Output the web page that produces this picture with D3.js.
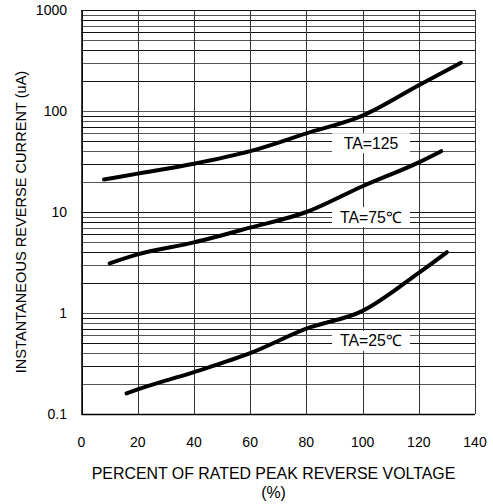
<!DOCTYPE html>
<html><head><meta charset="utf-8">
<script src="https://cdn.jsdelivr.net/npm/d3@7"></script>
<style>body{margin:0;background:#fff}svg{display:block}text{font-family:Arial,"Liberation Sans",sans-serif;fill:#000}</style>
</head><body><svg id="c" width="493" height="504"></svg>
<script>
const xTicks=[0,20,40,60,80,100,120,140];
const yTicks=[0.1,1,10,100,1000];
const yTickLabels=["0.1","1","10","100","1000"];
const x125=[8,20,40,60,80,100,120,135];
const y125=[21,24,30,40,60,90,180,300];
const x75=[10,20,40,60,80,100,120,128];
const y75=[3.1,3.8,5,7,10,18,31,40];
const x25=[16,20,40,60,80,100,120,130];
const y25=[0.16,0.175,0.26,0.4,0.7,1.05,2.5,4];
const labels=[{t:"TA=125",x:103,y:48},{t:"TA=75℃",x:103,y:8.9},{t:"TA=25℃",x:103,y:0.53}];

const svg=d3.select("#c");
const L=81.5,R=475,T=10,B=414;
const x=d3.scaleLinear().domain([0,140]).range([L,R]);
const y=d3.scaleLog().domain([0.1,1000]).range([B,T]);
const g=svg.append("g");
const minor=[];
for(let d=0.1;d<1000;d*=10){for(let k=1;k<=9;k++)minor.push(+(d*k).toPrecision(3));}
minor.push(1000);
g.selectAll(".h").data(minor).join("line").attr("x1",L).attr("x2",R)
 .attr("y1",d=>Math.round(y(d))+0.5).attr("y2",d=>Math.round(y(d))+0.5)
 .attr("stroke",(d,i)=>i%2?"#555":"#111").attr("stroke-width",1);
g.selectAll(".v").data(xTicks).join("line").attr("y1",T).attr("y2",B)
 .attr("x1",d=>Math.round(x(d))+0.5).attr("x2",d=>Math.round(x(d))+0.5)
 .attr("stroke","#333").attr("stroke-width",1);
g.append("line").attr("x1",L).attr("x2",R).attr("y1",B+0.5).attr("y2",B+0.5).attr("stroke","#000").attr("stroke-width",1.5);
g.append("line").attr("x1",L+0.5).attr("x2",L+0.5).attr("y1",T).attr("y2",B).attr("stroke","#000").attr("stroke-width",1.5);
const line=d3.line().x(d=>x(d[0])).y(d=>y(d[1])).curve(d3.curveMonotoneX);
[[x125,y125],[x75,y75],[x25,y25]].forEach(([xs,ys])=>{
 g.append("path").attr("d",line(xs.map((v,i)=>[v,ys[i]]))).attr("fill","none").attr("stroke","#000").attr("stroke-width",4).attr("stroke-linecap","round");
});
const lg=svg.append("g");
labels.forEach(l=>{
 const cx=x(l.x),cy=y(l.y);
 lg.append("rect").attr("x",cx-39).attr("y",cy-10).attr("width",78).attr("height",20).attr("fill","#fff");
 lg.append("text").attr("x",cx).attr("y",cy).attr("text-anchor","middle").attr("dominant-baseline","central").attr("font-size",15.8).text(l.t);
});
svg.selectAll(".yt").data(yTicks).join("text").attr("x",67).attr("y",d=>y(d)).attr("text-anchor","end").attr("dominant-baseline","central").attr("font-size",14).text((d,i)=>yTickLabels[i]);
svg.selectAll(".xt").data(xTicks).join("text").attr("x",d=>x(d)).attr("y",442).attr("text-anchor","middle").attr("dominant-baseline","central").attr("font-size",14).text(d=>d);
svg.append("text").attr("x",273.5).attr("y",473).attr("text-anchor","middle").attr("dominant-baseline","central").attr("font-size",15.9).text("PERCENT OF RATED PEAK REVERSE VOLTAGE");
svg.append("text").attr("x",273.5).attr("y",492).attr("text-anchor","middle").attr("dominant-baseline","central").attr("font-size",15.9).text("(%)");
svg.append("text").attr("transform","translate(21,222) rotate(-90)").attr("text-anchor","middle").attr("dominant-baseline","central").attr("font-size",14.6).text("INSTANTANEOUS REVERSE CURRENT (uA)");
</script></body></html>
